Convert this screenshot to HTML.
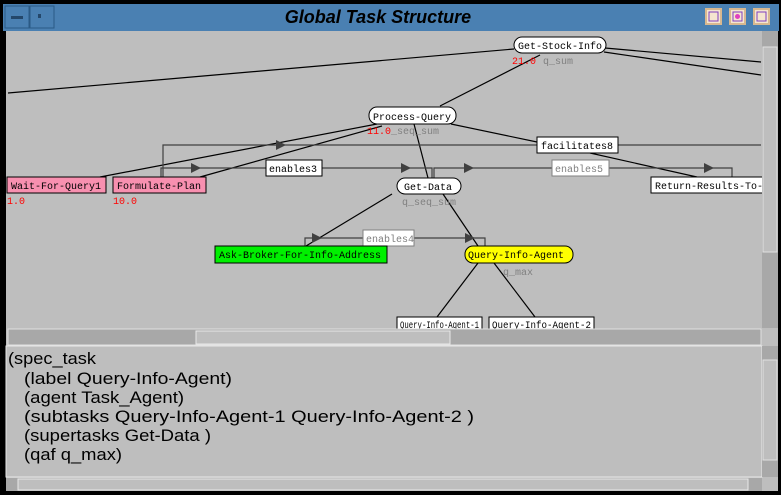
<!DOCTYPE html>
<html><head><meta charset="utf-8"><style>
html,body{margin:0;padding:0;background:#000;}
svg{display:block}
.m{font-family:"Liberation Mono",monospace;font-size:10px;}
.s{font-family:"Liberation Sans",sans-serif;font-size:17px;}
</style></head><body>
<svg width="781" height="495" viewBox="0 0 781 495" xmlns="http://www.w3.org/2000/svg">
<rect x="0" y="0" width="781" height="495" fill="#000"/>
<rect x="3" y="4" width="776" height="27" fill="#4a80b2"/>
<rect x="5" y="6" width="24" height="22" fill="#4a80b2" stroke="#2b5a85"/>
<rect x="11" y="16" width="12" height="3" fill="#24476a"/>
<rect x="30" y="6" width="24" height="22" fill="#4a80b2" stroke="#2b5a85"/>
<rect x="38" y="14" width="3" height="4" fill="#24476a"/>
<text x="378" y="23" text-anchor="middle" font-family="Liberation Sans,sans-serif" font-size="18" font-weight="bold" font-style="italic" fill="#000">Global Task Structure</text>
<g stroke="#d8b890" stroke-width="2" fill="#f5e6d0">
<rect x="706" y="9" width="15" height="15"/><rect x="730" y="9" width="15" height="15"/><rect x="754" y="9" width="15" height="15"/>
</g>
<g fill="none" stroke="#8040c0"><rect x="709" y="12" width="9" height="9"/><rect x="733" y="12" width="9" height="9"/><rect x="757" y="12" width="9" height="9"/></g>
<circle cx="737.5" cy="16.5" r="2.5" fill="#e040c0"/>
<rect x="6" y="31" width="772" height="460" fill="#bebebe"/>
<g stroke="#000" stroke-width="1.2" fill="none">
<line x1="514" y1="49" x2="8" y2="93"/>
<line x1="605" y1="48" x2="761" y2="62"/>
<line x1="604" y1="52" x2="761" y2="75"/>
<line x1="540" y1="55" x2="440" y2="106"/>
<line x1="377" y1="124" x2="100" y2="177"/>
<line x1="382" y1="126" x2="200" y2="177"/>
<line x1="414" y1="124" x2="428" y2="178"/>
<line x1="451" y1="124" x2="537" y2="142"/>
<line x1="590" y1="153" x2="697" y2="177"/>
<line x1="392" y1="194" x2="306" y2="246"/>
<line x1="443" y1="194" x2="478" y2="246"/>
<line x1="478" y1="263" x2="437" y2="317"/>
<line x1="494" y1="263" x2="535" y2="317"/>
</g>
<g stroke="#404040" stroke-width="1.2" fill="none">
<polyline points="163,177 163,145 761,145"/>
<polyline points="161,177 161,168 432,168 432,178"/>
<polyline points="434,178 434,168 732,168 732,177"/>
<polyline points="305,246 305,238 485,238 485,246"/>
</g>
<g fill="#404040">
<polygon points="276,140 286,145 276,150"/>
<polygon points="191,163 201,168 191,173"/>
<polygon points="401,163 411,168 401,173"/>
<polygon points="464,163 474,168 464,173"/>
<polygon points="704,163 714,168 704,173"/>
<polygon points="312,233 322,238 312,243"/>
<polygon points="465,233 475,238 465,243"/>
</g>
<g class="m" stroke="#000" stroke-width="1">
<rect x="514" y="37" width="92" height="16" rx="8" fill="#fff"/>
<rect x="369" y="107" width="87" height="17" rx="8" fill="#fff"/>
<rect x="537" y="137" width="81" height="16" fill="#fff"/>
<rect x="266" y="160" width="56" height="16" fill="#fff"/>
<rect x="552" y="160" width="57" height="16" fill="#fff" stroke="#808080"/>
<rect x="7" y="177" width="99" height="16" fill="#f890b0"/>
<rect x="113" y="177" width="93" height="16" fill="#f890b0"/>
<rect x="397" y="178" width="64" height="16" rx="8" fill="#fff"/>
<rect x="651" y="177" width="112" height="16" fill="#fff"/>
<rect x="363" y="230" width="51" height="16" fill="#fff" stroke="#808080"/>
<rect x="215" y="246" width="172" height="17" fill="#00f000"/>
<rect x="465" y="246" width="108" height="17" rx="8" fill="#ffff00"/>
<rect x="397" y="317" width="85" height="14" fill="#fff"/>
<rect x="489" y="317" width="105" height="14" fill="#fff"/>
</g>
<g class="m" fill="#000">
<text x="518" y="49">Get-Stock-Info</text>
<text x="373" y="120">Process-Query</text>
<text x="541" y="149">facilitates8</text>
<text x="269" y="172">enables3</text>
<text x="555" y="172" fill="#808080">enables5</text>
<text x="11" y="189">Wait-For-Query1</text>
<text x="117" y="189">Formulate-Plan</text>
<text x="404" y="190">Get-Data</text>
<text x="655" y="189">Return-Results-To-</text>
<text x="366" y="242" fill="#808080">enables4</text>
<text x="219" y="258">Ask-Broker-For-Info-Address</text>
<text x="468" y="258">Query-Info-Agent</text>
<text x="400" y="328" textLength="79" lengthAdjust="spacingAndGlyphs">Query-Info-Agent-1</text>
<text x="492" y="328" textLength="99" lengthAdjust="spacingAndGlyphs">Query-Info-Agent-2</text>
<text x="512" y="64" fill="#f00">21.0</text>
<text x="543" y="64" fill="#808080">q_sum</text>
<text x="367" y="134" fill="#f00">11.0</text>
<text x="391" y="134" fill="#808080">_seq_sum</text>
<text x="7" y="204" fill="#f00">1.0</text>
<text x="113" y="204" fill="#f00">10.0</text>
<text x="402" y="205" fill="#808080">q_seq_sum</text>
<text x="503" y="275" fill="#808080">q_max</text>
</g>
<rect x="762" y="31" width="16" height="297" fill="#a8a8a8"/>
<rect x="763" y="47" width="14" height="205" fill="#bebebe" stroke="#e0e0e0"/>
<rect x="8" y="329" width="753" height="16" fill="#a8a8a8" stroke="#e0e0e0"/>
<rect x="196" y="331" width="254" height="13" fill="#bebebe" stroke="#e8e8e8"/>
<rect x="6" y="346" width="756" height="131" fill="#bebebe" stroke="#e8e8e8"/>
<rect x="762" y="346" width="16" height="131" fill="#a8a8a8"/>
<rect x="763" y="360" width="14" height="100" fill="#bebebe" stroke="#e0e0e0"/>
<rect x="6" y="478" width="756" height="13" fill="#a8a8a8"/>
<rect x="18" y="479" width="730" height="11" fill="#bebebe" stroke="#e8e8e8"/>
<g class="s" fill="#000">
<text x="8" y="364" textLength="88" lengthAdjust="spacingAndGlyphs">(spec_task</text>
<text x="24" y="384" textLength="208" lengthAdjust="spacingAndGlyphs">(label Query-Info-Agent)</text>
<text x="24" y="403" textLength="160" lengthAdjust="spacingAndGlyphs">(agent Task_Agent)</text>
<text x="24" y="422" textLength="450" lengthAdjust="spacingAndGlyphs">(subtasks Query-Info-Agent-1 Query-Info-Agent-2 )</text>
<text x="24" y="441" textLength="187" lengthAdjust="spacingAndGlyphs">(supertasks Get-Data )</text>
<text x="24" y="460" textLength="98" lengthAdjust="spacingAndGlyphs">(qaf q_max)</text>
</g>
</svg>
</body></html>
